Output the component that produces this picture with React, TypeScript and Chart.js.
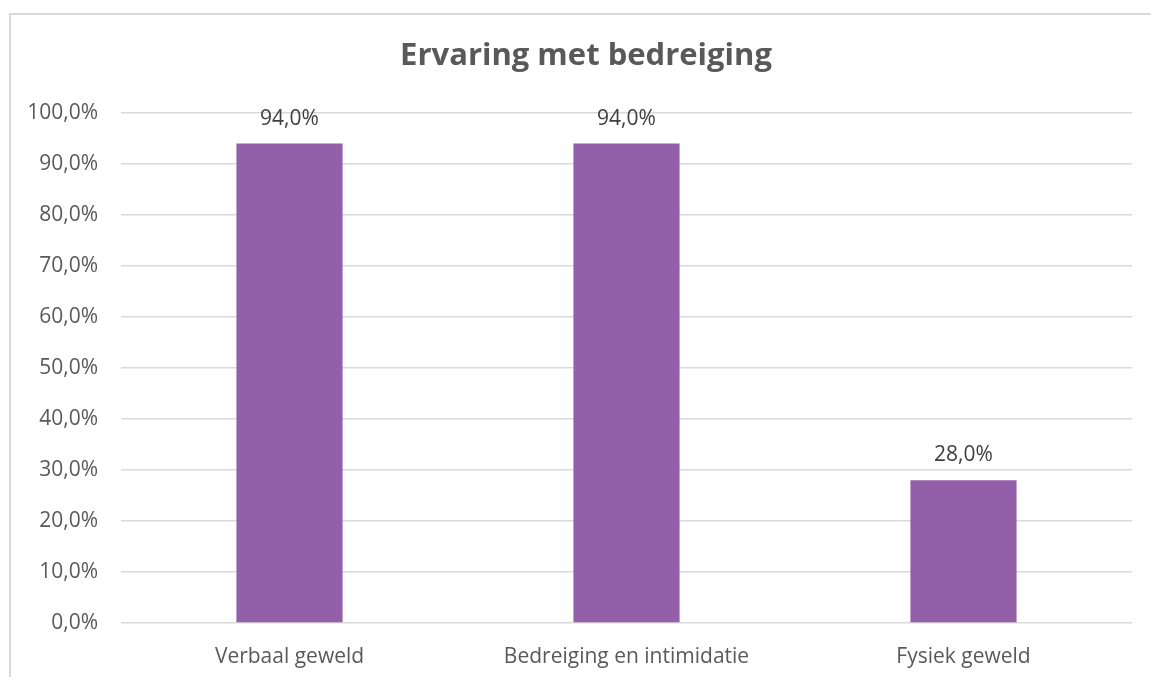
import React, { useEffect, useRef } from "react";
import { Chart, registerables } from "chart.js";

Chart.register(...registerables);

const TITLE = "Ervaring met bedreiging";
const categories = ["Verbaal geweld", "Bedreiging en intimidatie", "Fysiek geweld"];
const values = [94.0, 94.0, 28.0];
const yTicks = [0, 10, 20, 30, 40, 50, 60, 70, 80, 90, 100];

const fmt = (v: number) => v.toFixed(1).replace(".", ",") + "%";

const FONT = "'Open Sans', sans-serif";

const framePlugin = {
  id: "frame",
  beforeDraw(chart: any) {
    const ctx = chart.ctx;
    ctx.save();
    ctx.strokeStyle = "#d9d9d9";
    ctx.lineWidth = 2;
    ctx.beginPath();
    ctx.moveTo(10, 677);
    ctx.lineTo(10, 14);
    ctx.lineTo(1151, 14);
    ctx.stroke();
    ctx.restore();
  },
};

const titlePlugin = {
  id: "customTitle",
  afterDraw(chart: any) {
    const ctx = chart.ctx;
    ctx.save();
    ctx.font = `bold 31px ${FONT}`;
    ctx.fillStyle = "#595959";
    ctx.textAlign = "center";
    ctx.textBaseline = "middle";
    ctx.fillText(TITLE, 586, 56);
    ctx.restore();
  },
};

const labelPlugin = {
  id: "dataLabels",
  afterDatasetsDraw(chart: any) {
    const ctx = chart.ctx;
    const meta = chart.getDatasetMeta(0);
    ctx.save();
    ctx.font = `21px ${FONT}`;
    ctx.fillStyle = "#404040";
    ctx.textAlign = "center";
    ctx.textBaseline = "middle";
    meta.data.forEach((bar: any, i: number) => {
      ctx.fillText(fmt(values[i]), bar.x, bar.y - 25);
    });
    ctx.restore();
  },
};

export default function App() {
  const ref = useRef<HTMLCanvasElement>(null);
  useEffect(() => {
    if (!ref.current) return;
    const chart = new Chart(ref.current, {
      type: "bar",
      data: {
        labels: categories,
        datasets: [
          {
            data: values,
            backgroundColor: "#945fa9",
            barPercentage: 0.315,
            categoryPercentage: 1,
          },
        ],
      },
      options: {
        animation: false,
        responsive: false,
        devicePixelRatio: 1,
        layout: { padding: { top: 113, right: 19, bottom: 0, left: 0 } },
        plugins: {
          legend: { display: false },
          title: { display: false },
          tooltip: { enabled: false },
        },
        scales: {
          x: {
            grid: { display: false, drawTicks: false },
            border: { display: false },
            ticks: {
              color: "#595959",
              font: { family: FONT, size: 21 },
              padding: 21,
            },
            afterFit(scale: any) {
              scale.height = 54;
            },
          },
          y: {
            min: 0,
            max: 100,
            afterBuildTicks(scale: any) {
              scale.ticks = yTicks.map((v) => ({ value: v }));
            },
            grid: { color: "#d9d9d9", lineWidth: 1.5, drawTicks: false },
            border: { display: false },
            ticks: {
              color: "#595959",
              font: { family: FONT, size: 21 },
              padding: 23,
              callback: (v: any) => fmt(Number(v)),
            },
            afterFit(scale: any) {
              scale.width = 121;
            },
          },
        },
      },
      plugins: [framePlugin, titlePlugin, labelPlugin],
    });
    return () => chart.destroy();
  }, []);

  return (
    <canvas
      ref={ref}
      width={1151}
      height={677}
      style={{ position: "fixed", left: 0, top: 0, width: 1151, height: 677 }}
    />
  );
}
